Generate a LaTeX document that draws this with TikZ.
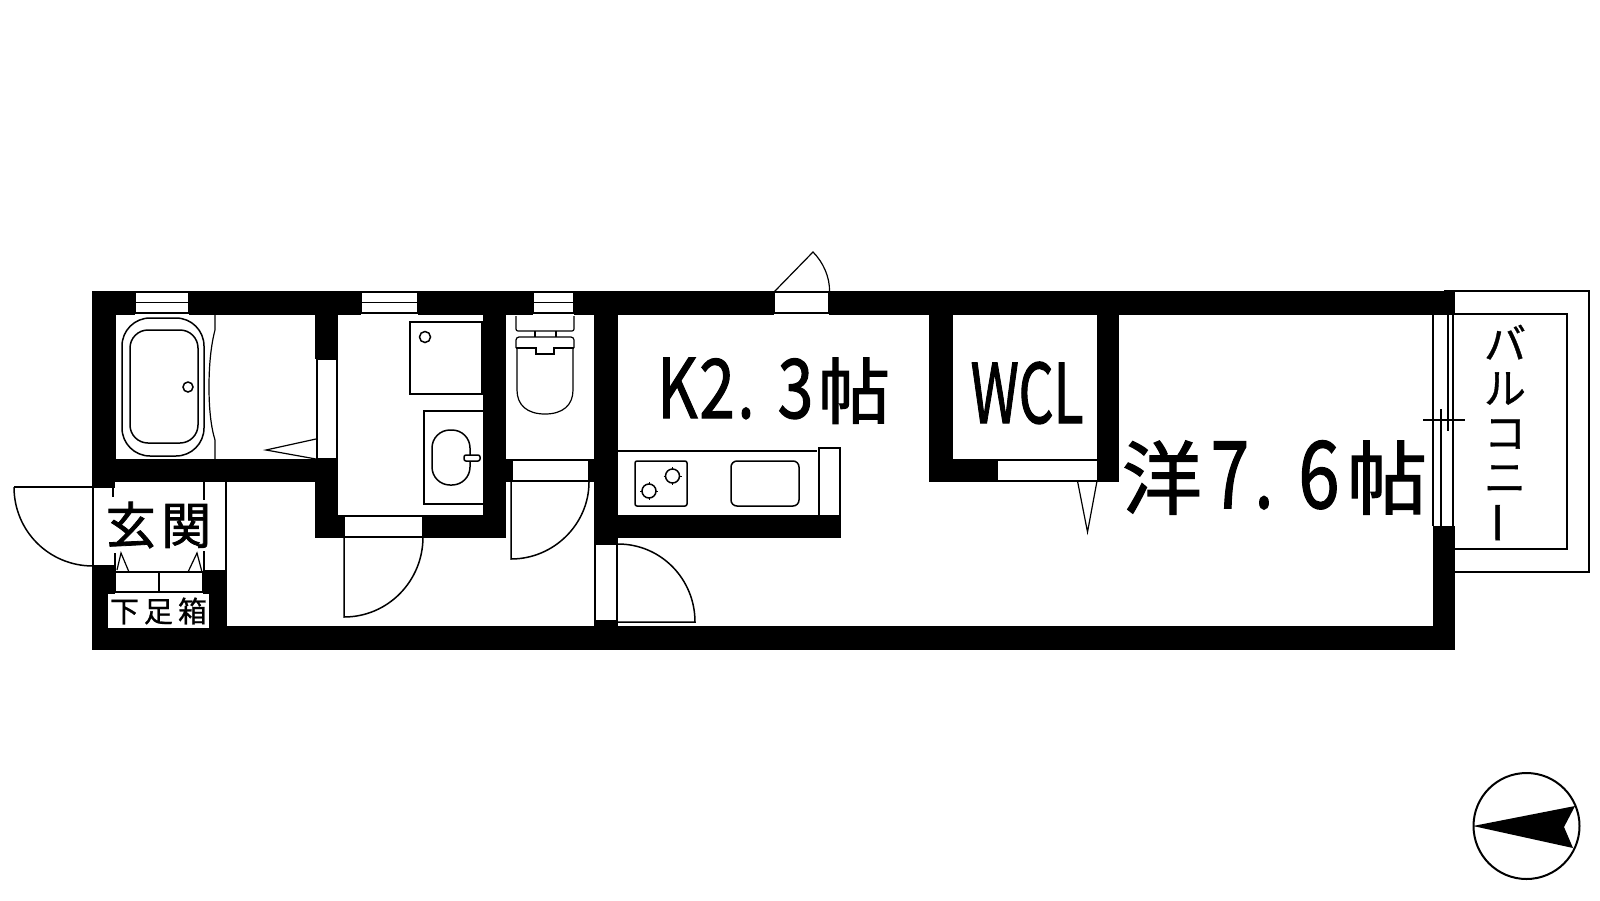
\documentclass[tikz,border=0pt]{standalone}
\usepackage{fontspec}
\setmainfont{Noto Sans CJK JP}
\newfontfamily\heavy[FakeBold=1.6]{Noto Sans CJK JP}
\newfontfamily\semi[FakeBold=0.9]{Noto Sans CJK JP}
\newcommand{\sz}[1]{\fontsize{#1}{#1}\selectfont}
\newcommand{\cell}[3]{\makebox[#1pt]{\scalebox{#2}[1]{#3}}}
\tikzset{
  wall/.style={fill=black,draw=none},
  thin line/.style={draw=black,line width=1.2pt},
  fix/.style={draw=black,line width=1.5pt},
  tag/.style={inner sep=0pt,outer sep=0pt,text=black},
}
\begin{document}
\begin{tikzpicture}[x=1pt,y=-1pt]
\useasboundingbox (0,0) rectangle (1600,900);
% outer walls
\fill[wall] (92,291) rectangle (1455,315);
\fill[wall] (92,626) rectangle (1455,650);
\fill[wall] (92,291) rectangle (116,482);
\fill[wall] (92,482) rectangle (115,488);
\fill[wall] (92,565) rectangle (115,650);
\fill[wall] (203,570) rectangle (227,650);
\fill[wall] (1433,526) rectangle (1455,650);
% inner walls
\fill[wall] (116,459) rectangle (338,482);
\fill[wall] (315,291) rectangle (338,359);
\fill[wall] (315,482) rectangle (338,538);
\fill[wall] (338,515) rectangle (344,538);
\fill[wall] (423,515) rectangle (506,538);
\fill[wall] (483,291) rectangle (506,538);
\fill[wall] (506,459) rectangle (512,482);
\fill[wall] (589,459) rectangle (594,482);
\fill[wall] (594,291) rectangle (618,544);
\fill[wall] (594,621) rectangle (618,626);
\fill[wall] (618,515) rectangle (841,538);
\fill[wall] (929,291) rectangle (953,482);
\fill[wall] (953,459) rectangle (997.5,482);
\fill[wall] (1097,291) rectangle (1119,482);
% window and door openings in the walls
\foreach \a/\b in {135/189,361/418,533/574}{
  \fill[white] (\a,291) rectangle (\b,315);
  \draw[thin line] (\a,292) rectangle (\b,313) (\a,302.5) -- (\b,302.5);
}
\fill[white] (774,291) rectangle (829,315);
\draw[thin line] (774,292) -- (829,292) (774,313) -- (829,313) (774,292) -- (774,313) (829,292) -- (829,313);
\draw[thin line] (774,292) -- (813,252) .. controls (823,262) and (830,277) .. (829.5,292);
% bath
\draw[thin line] (317,359) rectangle (337,459);
\draw[thin line] (316,439) -- (266,450) -- (316,459);
\draw[thin line] (215,315) -- (215,330) .. controls (211,345) and (209,365) .. (209,387) .. controls (209,409) and (211,427) .. (215,440) -- (215,459);
\draw[fix,rounded corners=28pt] (122,318) rectangle (204,456);
\draw[fix,rounded corners=18pt] (130,330) rectangle (198,443);
\draw[fix] (188,387) circle[radius=5pt];
% washroom
\draw[fix] (410,322) rectangle (482,394);
\draw[fix] (425,337) circle[radius=5.5pt];
\draw[fix] (483,411) -- (424,411) -- (424,504) -- (483,504);
\draw[fix,rounded corners=18pt] (432,430) rectangle (470,485);
\draw[fix,fill=white,rounded corners=2pt] (464,455) rectangle (480,461);
\draw[thin line] (344,516) -- (423,516) (344,537) -- (423,537) (344,516) -- (344,537) (423,516) -- (423,537);
\draw[fix] (344,537) -- (344,617) .. controls (388,617) and (423,581) .. (423,537);
% toilet
\draw[thin line,rounded corners=2pt] (516,316) -- (516,331) -- (574,331) -- (574,316);
\draw[thin line] (535,331) -- (535,337) (556,331) -- (556,337);
\draw[thin line,rounded corners=3pt] (516,348) -- (516,337) -- (574,337) -- (574,348);
\draw[thin line] (516,348) -- (536,348) -- (536,354) -- (554,354) -- (554,348) -- (574,348);
\draw[thin line] (517,348) -- (517,390) .. controls (517,405) and (527,414) .. (545,414) .. controls (563,414) and (573,405) .. (573,390) -- (573,348);
\draw[thin line] (512,460) -- (589,460) (512,481) -- (589,481) (512,460) -- (512,481) (589,460) -- (589,481);
\draw[fix] (511,482) -- (511,559) .. controls (554,559) and (589,524) .. (589,482);
% kitchen
\draw[thin line] (618,451) -- (817,451);
\draw[thin line] (819,515) -- (819,448) -- (840,448) -- (840,515);
\draw[fix,rounded corners=2pt] (635,461) rectangle (687,506);
\draw[fix,rounded corners=6pt] (731,461) rectangle (799,506);
\foreach \x/\y in {672.5/476,649/491}{
  \draw[line width=1pt] (\x-9,\y) -- (\x+9,\y) (\x,\y-9) -- (\x,\y+9);
  \draw[fix,fill=white] (\x,\y) circle[radius=7pt];
}
% door to the room
\draw[thin line] (595,544) rectangle (617,621);
\draw[fix] (618,544) .. controls (661,544) and (695,579) .. (695,622) -- (618,622);
% closet
\draw[thin line] (997.5,460) -- (1097,460) (997.5,481) -- (1097,481);
\draw[thin line] (1077.5,481) -- (1087.5,532) -- (1097,481);
% balcony
\draw[thin line] (1444,291) -- (1589,291) -- (1589,572) -- (1455,572);
\draw[thin line] (1455,314) -- (1567,314) -- (1567,549) -- (1455,549);
\fill[white] (1433.6,315) rectangle (1453,526);
\draw[thin line] (1433,315) -- (1433,526) (1453,315) -- (1453,526);
\draw[thin line] (1441,409) -- (1441,526) (1448,315) -- (1448,431);
\draw[thin line] (1423,420) -- (1465,420);
% entrance
\draw[thin line] (14,487) -- (93,487) (93,487) -- (93,565) (113,488) -- (113,497);
\draw[fix] (14,487) .. controls (14,531) and (49,566) .. (93,566);
\draw[thin line] (204,482) -- (204,570) (226,482) -- (226,570);
\draw[thin line] (115,553) -- (115,572);
\draw[thin line] (117,570) -- (121,553) -- (129,572);
\draw[thin line] (188,572) -- (197,553) -- (202,572);
\draw[thin line] (115,572) rectangle (203,592) (159,572) -- (159,592);
% texts
\node[tag,fill=white,minimum width=104pt,minimum height=51pt] (genkan) at (158.5,525) {\heavy\sz{50}玄\hspace{5.5pt}関};
\node[tag,fill=white,minimum width=101pt,minimum height=34pt] (getabako) at (158.5,611) {\semi\sz{29}下\hspace{5pt}足\hspace{5pt}箱};
\node[tag,anchor=base west] (kitchen) at (655,418) {\heavy\cell{45}{.76}{\sz{82}K}\cell{34}{.78}{\sz{82}2}\cell{24}{.72}{\sz{82}.}\cell{75}{.78}{\sz{82}3}\cell{42}{1}{\sz{72}帖}};
\node[tag,anchor=base] (wcl) at (1027,423) {\heavy\scalebox{.67}[1]{\sz{82}WCL}};
\node[tag,anchor=base west] (room) at (1123,508) {\heavy\cell{78}{1}{\sz{80}洋}\cell{58}{.74}{\sz{93}7}\cell{10}{.72}{\sz{93}.}\cell{100}{.8}{\sz{93}6}\cell{36}{1}{\sz{80}帖}};
\node[tag,align=center,font=\semi\fontsize{42}{44.5}\selectfont] (balcony) at (1505,431) {バ\\ル\\コ\\ニ\\\raisebox{5pt}[24pt][0pt]{\scalebox{1.05}{\rotatebox[origin=c]{90}{ー}}}};
% compass
\draw[line width=2pt] (1526.5,826) circle[radius=53pt];
\fill[black] (1473,826) -- (1575,806) -- (1564,827) -- (1573,848) -- cycle;
\end{tikzpicture}
\end{document}
